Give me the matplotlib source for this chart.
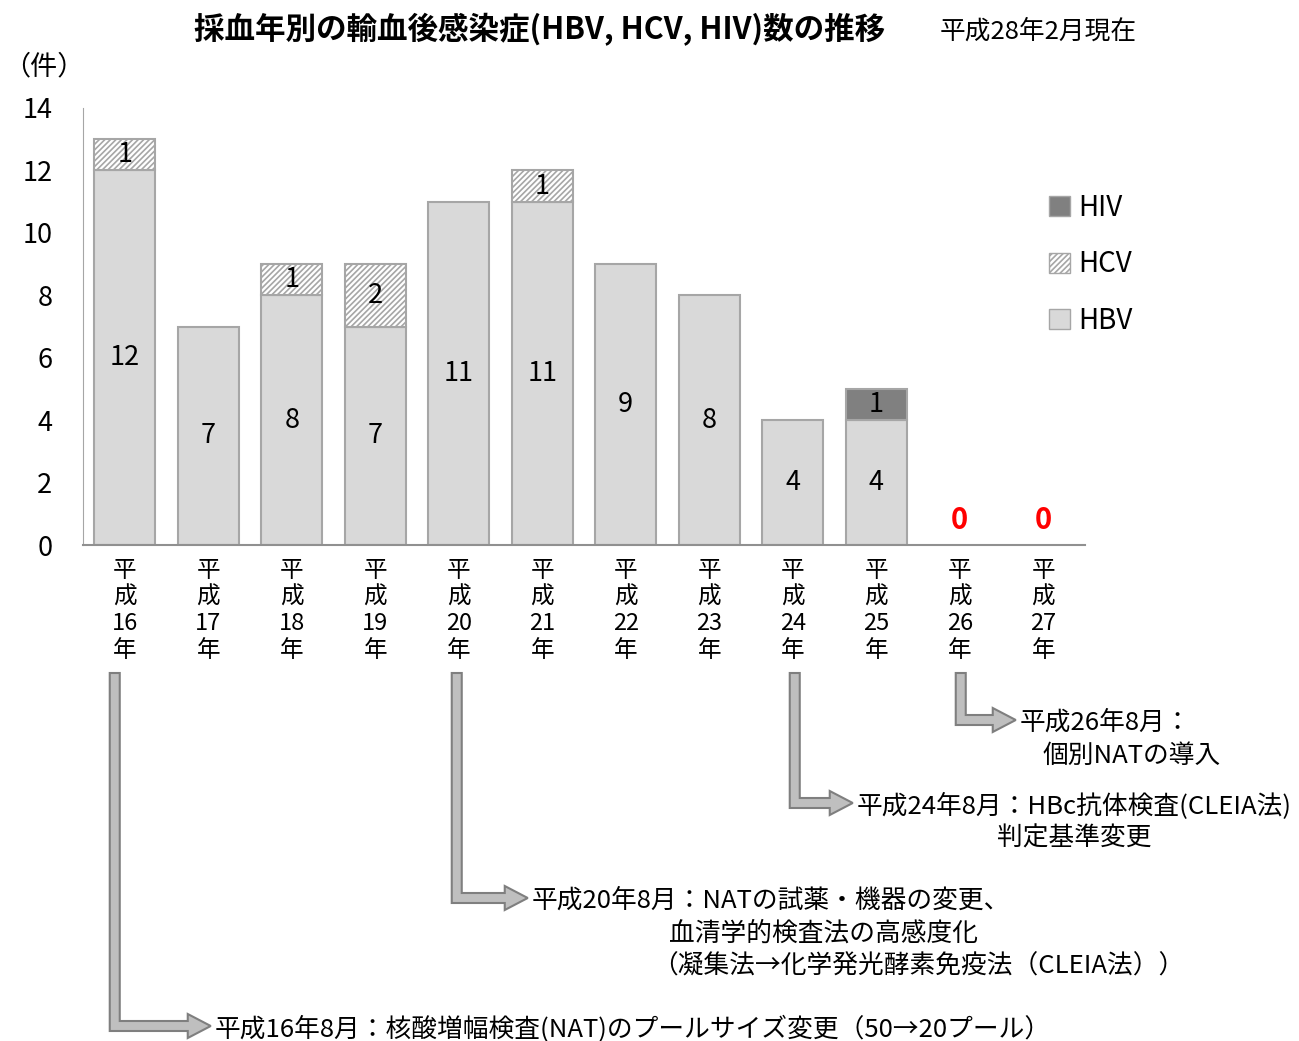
import numpy as np
import matplotlib.pyplot as plt
from matplotlib.patches import Patch, Polygon

plt.rcParams['font.family'] = ['Noto Sans CJK JP', 'DejaVu Sans']
plt.rcParams['hatch.linewidth'] = 1.2

# data
years = ['平\n成\n16\n年', '平\n成\n17\n年', '平\n成\n18\n年', '平\n成\n19\n年',
         '平\n成\n20\n年', '平\n成\n21\n年', '平\n成\n22\n年', '平\n成\n23\n年',
         '平\n成\n24\n年', '平\n成\n25\n年', '平\n成\n26\n年', '平\n成\n27\n年']
hbv = [12, 7, 8, 7, 11, 11, 9, 8, 4, 4, 0, 0]
hcv = [1, 0, 1, 2, 0, 1, 0, 0, 0, 0, 0, 0]
hiv = [0, 0, 0, 0, 0, 0, 0, 0, 0, 1, 0, 0]

events = [
    (0, 1026, ['平成16年8月：核酸増幅検査(NAT)のプールサイズ変更（50→20プール）']),
    (4, 898, ['平成20年8月：NATの試薬・機器の変更、', '血清学的検査法の高感度化',
              '（凝集法→化学発光酵素免疫法（CLEIA法））']),
    (8, 803, ['平成24年8月：HBc抗体検査(CLEIA法)', '判定基準変更']),
    (10, 720, ['平成26年8月：', '個別NATの導入']),
]
# layout of the annotation arrows (pixels)
shaft_dx = [-10, -2, 2, 1]
head_dx = [73, 48, 35, 32]
indent = [[0], [0, 137, 120], [0, 140], [0, 23]]

W, H = 1299, 1041
fig = plt.figure(figsize=(W / 100, H / 100), dpi=100)
ax = fig.add_axes([83 / W, 1 - 545 / H, 1002 / W, (545 - 108) / H])

x = np.arange(len(years))
bw = 0.73
c_hbv, c_hiv, c_edge = '#d9d9d9', '#808080', '#a6a6a6'

hbv = np.array(hbv)
hcv = np.array(hcv)
hiv = np.array(hiv)
m = hbv > 0
ax.bar(x[m], hbv[m], bw, color=c_hbv, edgecolor=c_edge, linewidth=1.5)
m2 = hcv > 0
ax.bar(x[m2], hcv[m2], bw, bottom=hbv[m2], color='white', edgecolor=c_edge,
       hatch='//////', linewidth=1.5)
m3 = hiv > 0
ax.bar(x[m3], hiv[m3], bw, bottom=(hbv + hcv)[m3], color=c_hiv, edgecolor=c_edge,
       linewidth=1.5)

for i in range(len(x)):
    if hbv[i] > 0:
        ax.text(x[i], hbv[i] / 2, str(hbv[i]), ha='center', va='center', fontsize=19.5)
    else:
        ax.text(x[i], 0.8, '0', ha='center', va='center', fontsize=21,
                color='red', fontweight='bold')
    if hcv[i] > 0:
        ax.text(x[i], hbv[i] + hcv[i] / 2, str(hcv[i]), ha='center', va='center', fontsize=19.5)
    if hiv[i] > 0:
        ax.text(x[i], hbv[i] + hcv[i] + hiv[i] / 2, str(hiv[i]), ha='center',
                va='center', fontsize=19.5)

ax.set_xlim(-0.5, len(x) - 0.5)
ax.set_ylim(0, 14)
ax.set_yticks(range(0, 15, 2))
ax.set_xticks(x)
ax.set_xticklabels(years, fontsize=17, linespacing=1.2)
ax.tick_params(axis='both', length=0)
ax.tick_params(axis='y', labelsize=19.5, pad=22)
ax.tick_params(axis='x', pad=10)
for s in ['top', 'right']:
    ax.spines[s].set_visible(False)
ax.spines['left'].set_color(c_edge)
ax.spines['bottom'].set_color('#909090')
ax.spines['bottom'].set_linewidth(1.5)

fig.text(540 / W, 1 - 30 / H, '採血年別の輸血後感染症(HBV, HCV, HIV)数の推移',
         ha='center', va='center', fontsize=22, fontweight='bold')
fig.text(940 / W, 1 - 32 / H, '平成28年2月現在', ha='left', va='center', fontsize=18.5)
fig.text(3 / W, 1 - 67 / H, '（件）', ha='left', va='center', fontsize=19.5)

handles = [Patch(facecolor=c_hiv, edgecolor=c_edge, label='HIV'),
           Patch(facecolor='white', edgecolor=c_edge, hatch='//////', label='HCV'),
           Patch(facecolor=c_hbv, edgecolor=c_edge, label='HBV')]
fig.legend(handles=handles, loc='upper left', bbox_to_anchor=(1049 / W, 1 - 193 / H),
           frameon=False, fontsize=20, handlelength=0.75, handleheight=0.75,
           handletextpad=0.3, labelspacing=0.95, borderpad=0, borderaxespad=0)

# elbow arrows under the axis
inv = fig.transFigure.inverted()
top = 673
for k, (idx, yb, lines) in enumerate(events):
    xc = ax.transData.transform((idx, 0))[0] + shaft_dx[k]
    xh = xc + head_dx[k]
    pts_px = [(xc - 5, top), (xc + 5, top), (xc + 5, yb - 5), (xh, yb - 5),
              (xh, yb - 12), (xh + 23, yb), (xh, yb + 12), (xh, yb + 5), (xc - 5, yb + 5)]
    pts = [inv.transform((px, H - py)) for px, py in pts_px]
    fig.patches.append(Polygon(pts, closed=True, facecolor='#bfbfbf', edgecolor='#7f7f7f',
                               linewidth=1.5, transform=fig.transFigure, figure=fig))
    for j, t in enumerate(lines):
        tx = xh + 27 + indent[k][j]
        fig.text(tx / W, 1 - (yb + 3 + 33 * j) / H, t, ha='left', va='center', fontsize=18.5)

fig.savefig('out.png', dpi=100)
